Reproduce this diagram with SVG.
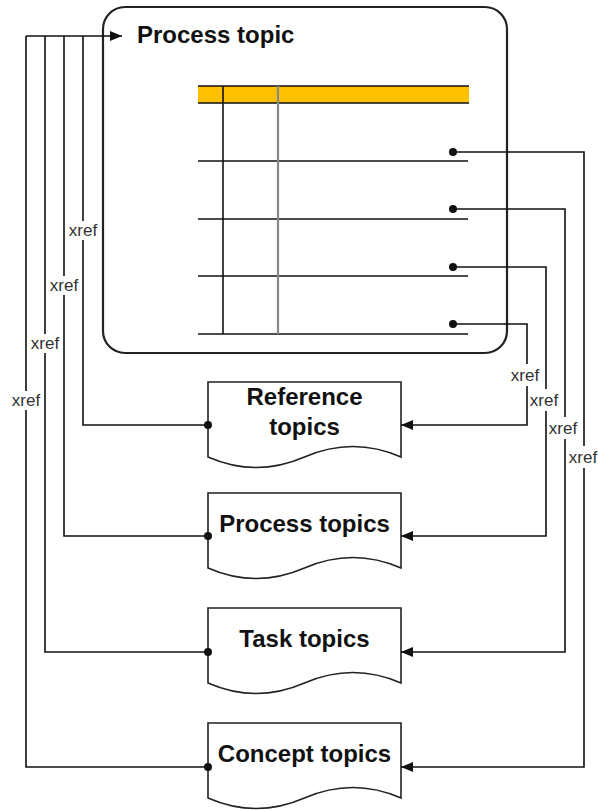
<svg xmlns="http://www.w3.org/2000/svg" width="598" height="810" viewBox="0 0 598 810">
<style>
.ln{fill:none;stroke:#111;stroke-width:1.6}
.box{fill:#fff;stroke:#222;stroke-width:1.6}
.ttl{font-family:"Liberation Sans",Arial,sans-serif;font-weight:bold;font-size:24px;fill:#111}
.lbl{font-family:"Liberation Sans",Arial,sans-serif;font-size:17px;fill:#333;text-anchor:middle}
.bt{font-family:"Liberation Sans",Arial,sans-serif;font-weight:bold;font-size:24px;fill:#111;text-anchor:middle}
</style>
<defs>
<marker id="arr" viewBox="0 0 12 10" refX="12" refY="5" markerWidth="12" markerHeight="10" markerUnits="userSpaceOnUse" orient="auto">
<path d="M0,0 L12,5 L0,10 Z" fill="#111"/>
</marker>
<marker id="dot" viewBox="-5 -5 10 10" refX="0" refY="0" markerWidth="10" markerHeight="10" markerUnits="userSpaceOnUse">
<circle r="4" fill="#111"/>
</marker>
<path id="doc" d="M0,0 H193 V75 Q145,54 96.5,75 T0,75 Z"/>
</defs>

<g id="process-topic">
<rect x="103" y="7" width="404" height="346" rx="22" ry="22" fill="#fff" stroke="#222" stroke-width="2.2"/>
<text class="ttl" x="137" y="43">Process topic</text>
<rect x="198" y="86" width="271" height="17" fill="#FFC000"/>
<path class="ln" d="M198,86 H469 M198,103 H469"/>
<path class="ln" d="M198,161 H468 M198,219 H468 M198,276 H468 M198,334 H468"/>
<path class="ln" d="M223,86 V334"/>
<path d="M278,86 V334" fill="none" stroke="#888" stroke-width="2.2"/>
</g>

<g id="reference-topics" transform="translate(208,382)">
<use href="#doc" class="box"/>
<text class="bt" x="96.5" y="23">Reference</text>
<text class="bt" x="96.5" y="53">topics</text>
</g>
<g id="process-topics" transform="translate(208,493)">
<use href="#doc" class="box"/>
<text class="bt" x="96.5" y="39">Process topics</text>
</g>
<g id="task-topics" transform="translate(208,608)">
<use href="#doc" class="box"/>
<text class="bt" x="96.5" y="39">Task topics</text>
</g>
<g id="concept-topics" transform="translate(208,723)">
<use href="#doc" class="box"/>
<text class="bt" x="96.5" y="39">Concept topics</text>
</g>

<g id="connectors">
<path class="ln" d="M26,36 H122" marker-end="url(#arr)"/>
<path class="ln" d="M83,36 V221 M83,240 V425 H208" marker-end="url(#dot)"/>
<path class="ln" d="M64,36 V276 M64,295 V536 H208" marker-end="url(#dot)"/>
<path class="ln" d="M45,36 V334 M45,353 V652 H208" marker-end="url(#dot)"/>
<path class="ln" d="M26,36 V391 M26,410 V767 H208" marker-end="url(#dot)"/>
<path class="ln" d="M453,324 H527 V364 M527,386 V425 H401" marker-start="url(#dot)" marker-end="url(#arr)"/>
<path class="ln" d="M453,267 H546 V389 M546,411 V536 H401" marker-start="url(#dot)" marker-end="url(#arr)"/>
<path class="ln" d="M453,209 H565 V417 M565,439 V652 H401" marker-start="url(#dot)" marker-end="url(#arr)"/>
<path class="ln" d="M453,152 H584 V446 M584,468 V767 H401" marker-start="url(#dot)" marker-end="url(#arr)"/>
<text class="lbl" x="83" y="236">xref</text>
<text class="lbl" x="64" y="291">xref</text>
<text class="lbl" x="45" y="349">xref</text>
<text class="lbl" x="26" y="406">xref</text>
<text class="lbl" x="525" y="381">xref</text>
<text class="lbl" x="544" y="406">xref</text>
<text class="lbl" x="563" y="434">xref</text>
<text class="lbl" x="583" y="463">xref</text>
</g>
</svg>
